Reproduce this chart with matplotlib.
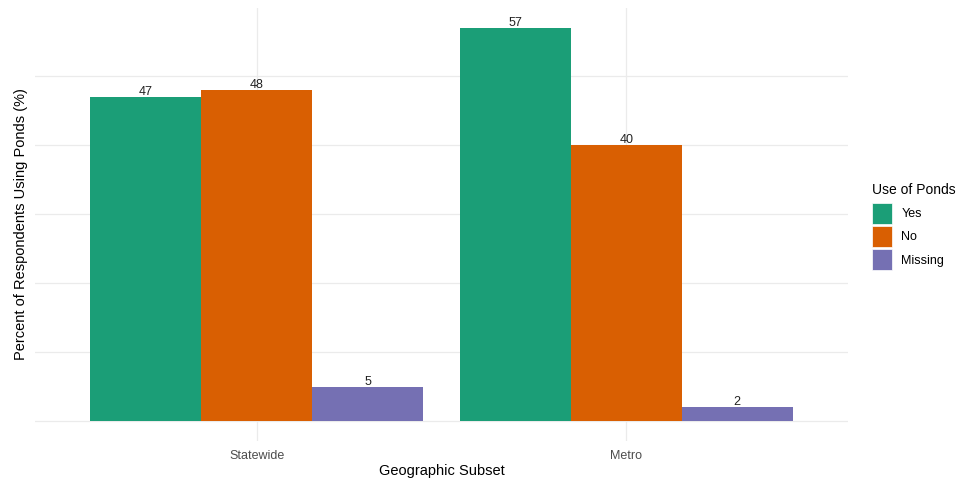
import numpy as np
import matplotlib
matplotlib.use("Agg")
import matplotlib.pyplot as plt
from matplotlib.patches import Patch

plt.rcParams['font.family'] = ['Liberation Sans', 'DejaVu Sans']

subsets = ["Statewide", "Metro"]
groups = ["Yes", "No", "Missing"]
yes_vals = [47, 57]
no_vals = [48, 40]
missing_vals = [5, 2]
colors = {"Yes": "#1B9E77", "No": "#D95F02", "Missing": "#7570B3"}

values = {"Yes": yes_vals, "No": no_vals, "Missing": missing_vals}

fig = plt.figure(figsize=(9.63, 4.83), dpi=100)
ax = fig.add_axes([0.0363, 0.0876, 0.8443, 0.8958])

x = np.arange(1, len(subsets) + 1)
w = 0.3
for i, g in enumerate(groups):
    pos = x + (i - 1) * w
    ax.bar(pos, values[g], width=w, color=colors[g], zorder=2)
    for p, v in zip(pos, values[g]):
        ax.text(p, v - 0.15, str(v), ha="center", va="bottom", fontsize=9, color="#222222", zorder=3)

ymax = max(max(yes_vals), max(no_vals), max(missing_vals))
ax.set_ylim(-0.05 * ymax, ymax * 1.05)
ax.set_xlim(0.4, 2.6)
ax.set_yticks(np.arange(0, ymax + 1, 10))
ax.set_yticklabels([])
ax.set_xticks(x)
ax.set_xticklabels(subsets, fontsize=9, color="#4D4D4D")
ax.tick_params(length=0, pad=7)
ax.grid(True, color="#EBEBEB", linewidth=0.9, zorder=0)
ax.set_axisbelow(True)
for s in ax.spines.values():
    s.set_visible(False)
ax.set_xlabel("Geographic Subset", fontsize=10.5, labelpad=1)
ax.set_ylabel("Percent of Respondents Using Ponds (%)", fontsize=10.5)
ax.yaxis.set_label_coords(-0.009, 0.5)

handles = [Patch(facecolor=colors[g], edgecolor="white", linewidth=0.5, label=g) for g in groups]
leg = fig.legend(handles=handles, title="Use of Ponds", loc="upper left",
                 bbox_to_anchor=(0.899, 0.634), frameon=False, fontsize=9,
                 title_fontsize=10, handlelength=1.6, handleheight=2.2,
                 handletextpad=0.75, labelspacing=0.2, borderpad=0)
leg._legend_box.align = "left"
leg._legend_box.sep = 4

fig.savefig("out.png", dpi=100)
